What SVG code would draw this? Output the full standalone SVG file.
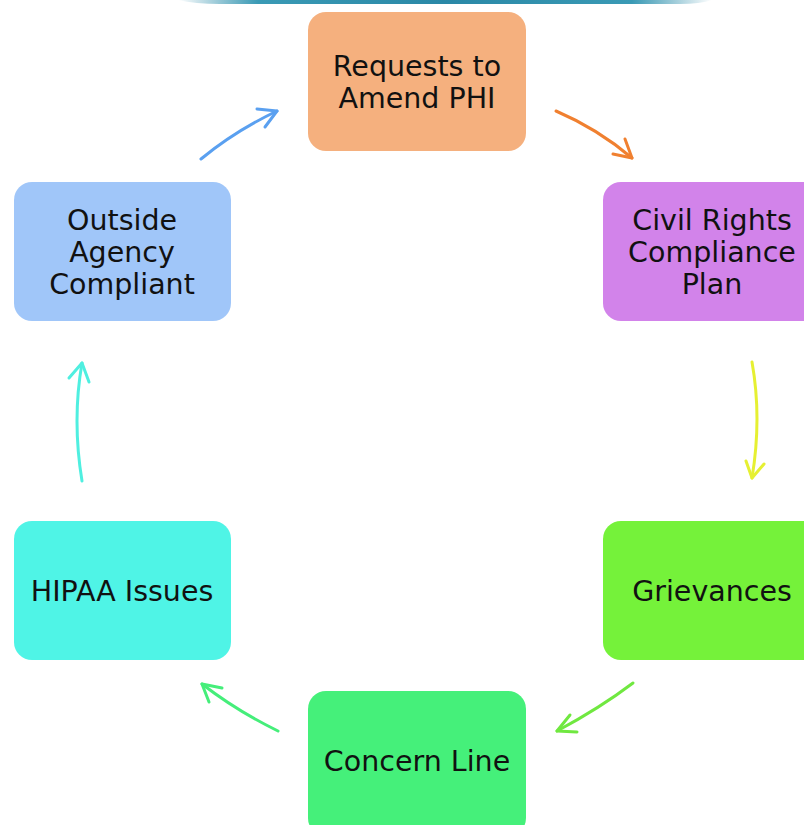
<svg xmlns="http://www.w3.org/2000/svg" width="804" height="825" viewBox="0 0 804 825">
<defs>
<linearGradient id="topg" x1="0" y1="0" x2="1" y2="0">
<stop offset="0" stop-color="#2a8aa8" stop-opacity="0"/>
<stop offset="0.15" stop-color="#3a9ab5"/>
<stop offset="0.5" stop-color="#2a88a6"/>
<stop offset="0.85" stop-color="#3a9ab5"/>
<stop offset="1" stop-color="#2a8aa8" stop-opacity="0"/>
</linearGradient>
<style>
.box{stroke:none}
.lbl{font-family:"DejaVu Sans","Liberation Sans",sans-serif;font-size:28.5px;fill:#111;text-anchor:middle}
.arr{fill:none;stroke-width:3;stroke-linecap:round;stroke-linejoin:round}
</style>
</defs>
<rect width="804" height="825" fill="#fff"/>
<path d="M178,0 L712,0 Q700,4 680,4 L220,4 Q195,4 178,0 Z" fill="url(#topg)"/>

<g id="n-requests">
<rect class="box" x="308" y="12" width="218" height="139" rx="18" fill="#f5b07e"/>
<text class="lbl" x="417" y="76">Requests to</text>
<text class="lbl" x="417" y="108">Amend PHI</text>
</g>
<g id="n-civil">
<rect class="box" x="603" y="182" width="218" height="139" rx="18" fill="#d283ea"/>
<text class="lbl" x="712" y="230">Civil Rights</text>
<text class="lbl" x="712" y="262">Compliance</text>
<text class="lbl" x="712" y="294">Plan</text>
</g>
<g id="n-grievances">
<rect class="box" x="603" y="521" width="218" height="139" rx="18" fill="#75f23a"/>
<text class="lbl" x="712" y="601">Grievances</text>
</g>
<g id="n-concern">
<rect class="box" x="308" y="691" width="218" height="145" rx="18" fill="#45f07a"/>
<text class="lbl" x="417" y="771">Concern Line</text>
</g>
<g id="n-hipaa">
<rect class="box" x="14" y="521" width="217" height="139" rx="18" fill="#4ff4e6"/>
<text class="lbl" x="122" y="601">HIPAA Issues</text>
</g>
<g id="n-outside">
<rect class="box" x="14" y="182" width="217" height="139" rx="18" fill="#a0c6f9"/>
<text class="lbl" x="122" y="230">Outside</text>
<text class="lbl" x="122" y="262">Agency</text>
<text class="lbl" x="122" y="294">Compliant</text>
</g>

<g id="connectors">
<g stroke="#5aa0f0" class="arr"><path d="M201,159 Q235,131 277,111"/><path d="M257,109 L277,111 L265,127"/></g>
<g stroke="#f08030" class="arr"><path d="M556,111 Q598,129 632,158"/><path d="M613,154 L632,158 L625,139"/></g>
<g stroke="#e6f032" class="arr"><path d="M752,362 Q762,418 752,478"/><path d="M746,461 L752,478 L764,464"/></g>
<g stroke="#70e840" class="arr"><path d="M633,683 Q600,708 557,731"/><path d="M570,715 L557,731 L577,732"/></g>
<g stroke="#45ee7a" class="arr"><path d="M278,731 Q237,711 202,684"/><path d="M222,688 L202,684 L209,702"/></g>
<g stroke="#4fefe0" class="arr"><path d="M82,481 Q72,420 82,363"/><path d="M69,378 L82,363 L89,382"/></g>
</g>
</svg>
